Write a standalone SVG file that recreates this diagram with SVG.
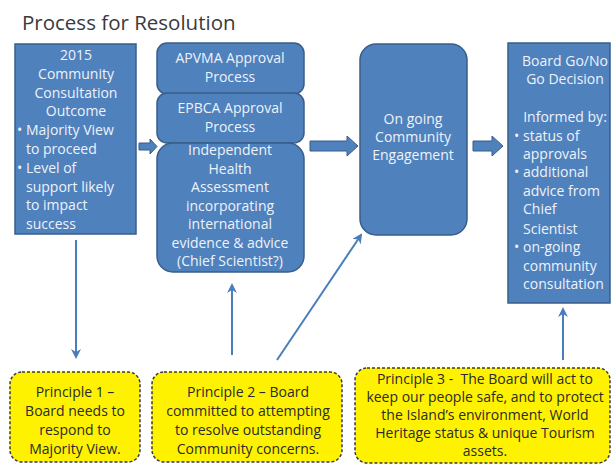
<svg xmlns="http://www.w3.org/2000/svg" width="611" height="464" viewBox="0 0 611 464">
<defs>
<style>
.box{fill:#4F81BD;stroke:#385D8A;stroke-width:1.5}
.bt{font-family:"Open Sans","Liberation Sans",sans-serif;font-size:14px;fill:#EEF2F9}
.c{text-anchor:middle}
.pr{fill:#FFF200;stroke:#3A3A3A;stroke-width:1.5;stroke-dasharray:3 2}
.pt{font-family:"Open Sans","Liberation Sans",sans-serif;font-size:14px;fill:#2A2A2A;text-anchor:middle}
.ln{stroke:#4A7EBB;stroke-width:2;fill:none}
.ba{fill:#4F81BD;stroke:#385D8A;stroke-width:1}
</style>
<marker id="ah" viewBox="0 0 10 10" refX="8" refY="5" markerWidth="5" markerHeight="5" orient="auto" markerUnits="strokeWidth">
<path d="M0,0 L10,5 L0,10 L3,5 Z" fill="#4A7EBB"/>
</marker>
</defs>
<rect width="611" height="464" fill="#FFFFFF"/>
<text x="22" y="30" font-family="'Open Sans','Liberation Sans',sans-serif" font-size="20.5" fill="#3A3A3A">Process for Resolution</text>

<g id="connectors">
<polygon class="ba" points="139,143 150,143 150,139 157,146.5 150,154 150,150 139,150"/>
<polygon class="ba" points="310,141 347,141 347,136 358,146 347,156 347,151 310,151"/>
<polygon class="ba" points="473,141 492,141 492,136 503,146 492,156 492,151 473,151"/>
<line class="ln" x1="76" y1="240" x2="76" y2="357" marker-end="url(#ah)"/>
<line class="ln" x1="232" y1="355" x2="232" y2="285" marker-end="url(#ah)"/>
<line class="ln" x1="277" y1="360" x2="361" y2="235" marker-end="url(#ah)"/>
<line class="ln" x1="563" y1="360" x2="563" y2="309" marker-end="url(#ah)"/>
</g>

<g id="consultation">
<rect class="box" x="15" y="44" width="121" height="190"/>
<text class="bt c" x="76" y="60">2015</text>
<text class="bt c" x="76" y="78.8">Community</text>
<text class="bt c" x="76" y="97.6">Consultation</text>
<text class="bt c" x="76" y="116.4">Outcome</text>
<text class="bt" x="17" y="135.2">•</text>
<text class="bt" x="26" y="135.2">Majority View</text>
<text class="bt" x="26" y="154">to proceed</text>
<text class="bt" x="17" y="172.8">•</text>
<text class="bt" x="26" y="172.8">Level of</text>
<text class="bt" x="26" y="191.6">support likely</text>
<text class="bt" x="26" y="210.4">to impact</text>
<text class="bt" x="26" y="229.2">success</text>
</g>

<g id="apvma">
<rect class="box" x="157" y="43" width="147" height="51" rx="10"/>
<text class="bt c" x="230" y="63">APVMA Approval</text>
<text class="bt c" x="230" y="82">Process</text>
</g>
<g id="epbca">
<rect class="box" x="157" y="93" width="147" height="50" rx="10"/>
<text class="bt c" x="230" y="113">EPBCA Approval</text>
<text class="bt c" x="230" y="132">Process</text>
</g>
<g id="health">
<rect class="box" x="157" y="143" width="147" height="129" rx="16"/>
<text class="bt c" x="230" y="155">Independent</text>
<text class="bt c" x="230" y="173.5">Health</text>
<text class="bt c" x="230" y="192">Assessment</text>
<text class="bt c" x="230" y="210.5">incorporating</text>
<text class="bt c" x="230" y="229">international</text>
<text class="bt c" x="230" y="247.5">evidence &amp; advice</text>
<text class="bt c" x="230" y="266">(Chief Scientist?)</text>
</g>

<g id="engagement">
<rect class="box" x="360" y="44" width="107" height="191" rx="16"/>
<text class="bt c" x="413" y="124">On going</text>
<text class="bt c" x="413" y="142">Community</text>
<text class="bt c" x="413" y="160">Engagement</text>
</g>

<g id="decision">
<rect class="box" x="508" y="43" width="102" height="260"/>
<text class="bt c" x="565" y="66">Board Go/No</text>
<text class="bt c" x="565" y="84">Go Decision</text>
<text class="bt c" x="565" y="122">Informed by:</text>
<text class="bt" x="514" y="141">•</text>
<text class="bt" x="523" y="141">status of</text>
<text class="bt" x="523" y="159">approvals</text>
<text class="bt" x="514" y="177">•</text>
<text class="bt" x="523" y="177">additional</text>
<text class="bt" x="523" y="196">advice from</text>
<text class="bt" x="523" y="214">Chief</text>
<text class="bt" x="523" y="234">Scientist</text>
<text class="bt" x="514" y="252">•</text>
<text class="bt" x="523" y="252">on-going</text>
<text class="bt" x="523" y="271">community</text>
<text class="bt" x="523" y="289">consultation</text>
</g>

<g id="principle1">
<rect class="pr" x="10" y="372" width="130" height="90" rx="12"/>
<text class="pt" x="75" y="397">Principle 1 –</text>
<text class="pt" x="75" y="416">Board needs to</text>
<text class="pt" x="75" y="435">respond to</text>
<text class="pt" x="75" y="454">Majority View.</text>
</g>
<g id="principle2">
<rect class="pr" x="152" y="372" width="190" height="90" rx="12"/>
<text class="pt" x="248" y="397">Principle 2 – Board</text>
<text class="pt" x="248" y="416">committed to attempting</text>
<text class="pt" x="248" y="435">to resolve outstanding</text>
<text class="pt" x="248" y="454">Community concerns.</text>
</g>
<g id="principle3">
<rect class="pr" x="355" y="368" width="255" height="95" rx="12"/>
<text class="pt" x="485" y="384" font-size="13" xml:space="preserve">Principle 3 -  The Board will act to</text>
<text class="pt" x="485" y="402" font-size="13">keep our people safe, and to protect</text>
<text class="pt" x="485" y="420" font-size="13">the Island’s environment, World</text>
<text class="pt" x="485" y="438" font-size="13">Heritage status &amp; unique Tourism</text>
<text class="pt" x="485" y="456" font-size="13">assets.</text>
</g>
</svg>
